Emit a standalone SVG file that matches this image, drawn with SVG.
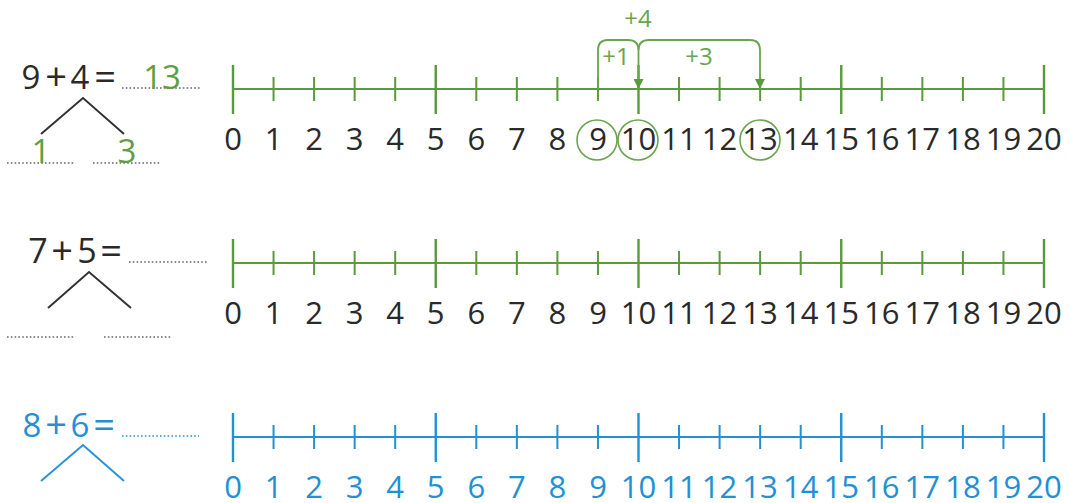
<svg xmlns="http://www.w3.org/2000/svg" width="1070" height="503" viewBox="0 0 1070 503">
<defs>
<style>
text{font-family:"Open Sans","Noto Sans","DejaVu Sans",sans-serif}
.num{font-size:31px;text-anchor:middle}
.eq{font-size:33px;text-anchor:middle}
.op{font-size:38px}
.dk{fill:#2a2a2a}
.gtx{fill:#5f9e45}
.btx{fill:#2190d4}
.g{stroke:#5a9a3c;fill:none}
.b{stroke:#2190d4;fill:none}
.axis{stroke-width:2.2}
.tick{stroke-width:2}
.major{stroke-width:2.4}
.tree{stroke:#333;stroke-width:2;fill:none}
.treeb{stroke:#2a93d6;stroke-width:2;fill:none}
.dot{stroke:#666;stroke-width:1.6;stroke-dasharray:1.6 2.2;fill:none}
.dotb{stroke:#2a93d6;stroke-width:1.6;stroke-dasharray:1.6 2.2;fill:none}
.jump{stroke:#6aa44f;stroke-width:1.8;fill:none}
.ring{stroke:#6aa44f;stroke-width:1.6;fill:none}
.lbl{font-size:24px;text-anchor:middle;fill:#6aa44f}
</style>
<marker id="ah" viewBox="0 0 10 10" refX="10" refY="5" markerWidth="10" markerHeight="10" markerUnits="userSpaceOnUse" orient="auto">
<path d="M0,0 L10,5 L0,10 Z" fill="#5a9a3c"/>
</marker>
<g id="ticks">
<path class="tick" d="M273.55,-12V12M314.1,-12V12M354.65,-12V12M395.2,-12V12M476.3,-12V12M516.85,-12V12M557.4,-12V12M597.95,-12V12M679.05,-12V12M719.6,-12V12M760.15,-12V12M800.7,-12V12M881.8,-12V12M922.35,-12V12M962.9,-12V12M1003.45,-12V12"/>
<path class="major" d="M233,-24V25M435.75,-24V25M638.5,-24V25M841.25,-24V25M1044,-24V25"/>
<path class="axis" d="M233,0H1044"/>
</g>
<g id="nums">
<text class="num" x="233" y="61">0</text><text class="num" x="273.5" y="61">1</text><text class="num" x="314" y="61">2</text><text class="num" x="354.6" y="61">3</text><text class="num" x="395.2" y="61">4</text><text class="num" x="435.7" y="61">5</text><text class="num" x="476.3" y="61">6</text><text class="num" x="516.8" y="61">7</text><text class="num" x="557.4" y="61">8</text><text class="num" x="598" y="61">9</text><text class="num" x="638.5" y="61">10</text><text class="num" x="679" y="61">11</text><text class="num" x="719.6" y="61">12</text><text class="num" x="760.1" y="61">13</text><text class="num" x="800.7" y="61">14</text><text class="num" x="841.2" y="61">15</text><text class="num" x="881.8" y="61">16</text><text class="num" x="922.3" y="61">17</text><text class="num" x="962.9" y="61">18</text><text class="num" x="1003.4" y="61">19</text><text class="num" x="1044" y="61">20</text>
</g>
</defs>

<g id="row1">
<g id="eq1">
<text class="eq dk" x="31" y="89">9</text><text class="eq op dk" x="56" y="90">+</text><text class="eq dk" x="80" y="89">4</text><text class="eq op dk" x="105" y="90">=</text>
<path class="dot" d="M122,88H200"/>
<text class="eq gtx" x="162" y="89">13</text>
</g>
<g id="tree1">
<path class="tree" d="M41,134L83,98L124,134"/>
<path class="dot" d="M7,163H74M93,163H161"/>
<text class="eq gtx" x="41" y="163">1</text>
<text class="eq gtx" x="127" y="163">3</text>
</g>
<g id="line1" transform="translate(0,89)">
<use href="#ticks" class="g"/>
<use href="#nums" class="dk"/>
</g>
<g id="circles1">
<circle class="ring" cx="597" cy="140" r="20"/>
<circle class="ring" cx="638" cy="140" r="20"/>
<circle class="ring" cx="760" cy="140" r="20"/>
</g>
</g>

<g id="connectors">
<path id="jump1" class="jump" d="M598,89V50Q598,40 608,40H628Q638.5,40 638.5,50V89" marker-end="url(#ah)"/>
<path id="jump3" class="jump" d="M638.5,50Q638.5,40 649,40H750Q760,40 760,50V89" marker-end="url(#ah)"/>
<text class="lbl" x="638" y="27">+4</text>
<text class="lbl" x="616" y="65">+1</text>
<text class="lbl" x="699" y="65">+3</text>
</g>

<g id="row2">
<g id="eq2">
<text class="eq dk" x="38" y="263" style="font-size:34px">7</text><text class="eq op dk" x="62" y="264">+</text><text class="eq dk" x="87" y="263" style="font-size:34px">5</text><text class="eq op dk" x="111" y="264">=</text>
<path class="dot" d="M129,262H207"/>
</g>
<g id="tree2">
<path class="tree" d="M48,308L89,272L131,308"/>
<path class="dot" d="M7,337H74M104,337H171"/>
</g>
<g id="line2" transform="translate(0,263)">
<use href="#ticks" class="g"/>
<use href="#nums" class="dk"/>
</g>
</g>

<g id="row3">
<g id="eq3">
<text class="eq btx" x="32" y="437">8</text><text class="eq op btx" x="56" y="438">+</text><text class="eq btx" x="80" y="437">6</text><text class="eq op btx" x="104" y="438">=</text>
<path class="dotb" d="M122,436H199"/>
</g>
<g id="tree3">
<path class="treeb" d="M41,481L83,445L124,481"/>
</g>
<g id="line3" transform="translate(0,437)">
<use href="#ticks" class="b"/>
<use href="#nums" class="btx"/>
</g>
</g>
</svg>
